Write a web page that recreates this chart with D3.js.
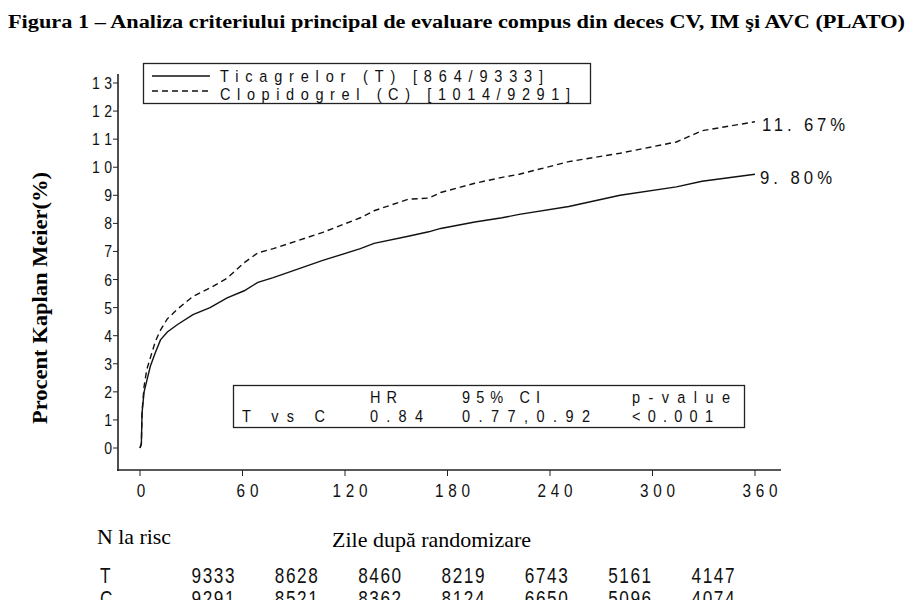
<!DOCTYPE html>
<html><head><meta charset="utf-8">
<script src="https://cdn.jsdelivr.net/npm/d3@7"></script>
<style>
body{margin:0;background:#fff;}
svg{display:block;}
.sans{font-family:"Liberation Sans",Arial,sans-serif;}
.serif{font-family:"Liberation Serif","Times New Roman",serif;}
</style></head>
<body><svg id="c" width="915" height="600"></svg>
<script>
const days        = [0, 0.8, 1.2, 2.4, 4, 6, 9, 12, 16, 22, 31, 41, 51, 61, 69, 78, 107, 129, 137, 157, 169, 176, 196, 212, 222, 251, 281, 314, 329, 360];
const ticagrelor  = [0, 0.15, 1.25, 2.0, 2.4, 2.9, 3.4, 3.85, 4.13, 4.4, 4.75, 5.0, 5.35, 5.6, 5.9, 6.07, 6.68, 7.1, 7.29, 7.54, 7.7, 7.82, 8.05, 8.2, 8.32, 8.6, 9.0, 9.3, 9.5, 9.75];
const clopidogrel = [0, 0.15, 1.3, 2.2, 2.8, 3.2, 3.8, 4.2, 4.6, 4.95, 5.4, 5.7, 6.05, 6.6, 6.95, 7.1, 7.68, 8.2, 8.45, 8.86, 8.9, 9.1, 9.43, 9.64, 9.75, 10.2, 10.5, 10.9, 11.3, 11.62];
const xTicks = [0, 60, 120, 180, 240, 300, 360];
const yTicks = [0,1,2,3,4,5,6,7,8,9,10,11,12,13];
const riskT = [9333, 8628, 8460, 8219, 6743, 5161, 4147];
const riskC = [9291, 8521, 8362, 8124, 6650, 5096, 4074];
const endLabels = ["11. 67%", "9. 80%"];
const legendLabels = ["Ticagrelor (T) [864/9333]", "Clopidogrel (C) [1014/9291]"];
const statsHead = ["HR", "95% CI", "p-value"];
const statsRow = ["T vs C", "0.84", "0.77,0.92", "<0.001"];

const svg = d3.select("#c");
const x = d3.scaleLinear().domain([0,360]).range([140,755]);
const y = d3.scaleLinear().domain([0,13]).range([448,83]);

// condensed, letter-spaced sans text (like the original's plotting font)
function stext(g, t, px, py, size, width, anchor, sx){
  sx = sx || 0.88;
  const e = g.append("text").attr("class","sans")
    .attr("transform",`translate(${px},${py}) scale(${sx},1)`)
    .attr("x",0).attr("y",0)
    .attr("font-size",size).attr("fill","#111").text(t);
  if(width) e.attr("textLength",width/sx).attr("lengthAdjust","spacing");
  if(anchor) e.attr("text-anchor",anchor);
  return e;
}

// title
svg.append("text").attr("class","serif").attr("x",8).attr("y",28)
  .attr("font-size",18).attr("font-weight","bold")
  .attr("textLength",897).attr("lengthAdjust","spacingAndGlyphs")
  .text("Figura 1 – Analiza criteriului principal de evaluare compus din deces CV, IM şi AVC (PLATO)");

// y label
svg.append("text").attr("class","serif")
  .attr("transform","translate(47,298) rotate(-90)")
  .attr("text-anchor","middle").attr("font-size",21).attr("font-weight","bold")
  .attr("textLength",252).attr("lengthAdjust","spacingAndGlyphs")
  .text("Procent Kaplan Meier(%)");

// axes lines
svg.append("line").attr("x1",118).attr("x2",118).attr("y1",74).attr("y2",471).attr("stroke","#222").attr("stroke-width",1.6);
svg.append("line").attr("x1",117).attr("x2",781).attr("y1",470).attr("y2",470).attr("stroke","#222").attr("stroke-width",1.6);

// y ticks
const yt = svg.append("g");
yt.selectAll("line").data(yTicks).join("line")
  .attr("x1",113).attr("x2",118).attr("y1",d=>y(d)).attr("y2",d=>y(d)).attr("stroke","#222");
yTicks.forEach(d=>{
  const s = String(d);
  stext(yt, s, 112, y(d)+6, 16.5, s.length>1?20:8.5, "end", 0.85);
});

// x ticks
const xt = svg.append("g");
xt.selectAll("line").data(xTicks).join("line")
  .attr("x1",d=>x(d)).attr("x2",d=>x(d)).attr("y1",470).attr("y2",476).attr("stroke","#222");
xTicks.forEach(d=>{
  const s = String(d);
  const w = s.length===1 ? 9 : s.length===2 ? 22 : 35;
  stext(xt, s, x(d) + (s.length>1?5:1), 497, 18, w, "middle", 0.85);
});

// curves
const lineL = d3.line().x(d=>x(d[0])).y(d=>y(d[1]));
svg.append("path").datum(days.map((d,i)=>[d,clopidogrel[i]]))
  .attr("d",lineL).attr("fill","none").attr("stroke","#111").attr("stroke-width",1.4)
  .attr("stroke-dasharray","6,4");
svg.append("path").datum(days.map((d,i)=>[d,ticagrelor[i]]))
  .attr("d",lineL).attr("fill","none").attr("stroke","#111").attr("stroke-width",1.4);

// end labels
const last = days.length-1;
stext(svg, endLabels[0], 762, y(clopidogrel[last])+9, 19, 83);
stext(svg, endLabels[1], 760, y(ticagrelor[last])+10, 19, 72);

// legend box
svg.append("rect").attr("x",143.5).attr("y",63.5).attr("width",447).attr("height",40)
  .attr("fill","#fff").attr("stroke","#222").attr("stroke-width",1.3);
svg.append("line").attr("x1",152).attr("x2",210).attr("y1",76).attr("y2",76).attr("stroke","#111").attr("stroke-width",1.3);
svg.append("line").attr("x1",152).attr("x2",210).attr("y1",91).attr("y2",91).attr("stroke","#111").attr("stroke-width",1.3).attr("stroke-dasharray","6,4");
stext(svg, legendLabels[0], 220, 82, 16.5, 323);
stext(svg, legendLabels[1], 220, 100, 16.5, 350);

// stats box
svg.append("rect").attr("x",233.5).attr("y",385.5).attr("width",511).attr("height",42)
  .attr("fill","#fff").attr("stroke","#222").attr("stroke-width",1.3);
const hx = [370, 462, 632], hw = [27, 78, 98];
statsHead.forEach((t,i)=>stext(svg, t, hx[i], 403, 16.5, hw[i]));
const rx = [242, 370, 462, 632], rw = [83, 53, 128, 81];
statsRow.forEach((t,i)=>stext(svg, t, rx[i], 422, 16.5, rw[i]));

// bottom labels
svg.append("text").attr("class","serif").attr("x",97).attr("y",544).attr("font-size",21)
  .attr("textLength",74).attr("lengthAdjust","spacingAndGlyphs").text("N la risc");
svg.append("text").attr("class","serif").attr("x",332).attr("y",547).attr("font-size",21)
  .attr("textLength",199).attr("lengthAdjust","spacingAndGlyphs").text("Zile după randomizare");

// risk table
const rxs = d3.scalePoint().domain(d3.range(riskT.length)).range([213,713]);
const rows = [["T",riskT,583],["C",riskC,606]];
rows.forEach(r=>{
  const g = svg.append("g");
  stext(g, r[0], 100, r[2], 21.5, 10, null, 0.8);
  r[1].forEach((d,i)=>stext(g, String(d), rxs(i), r[2], 21.5, 43, "middle", 0.8));
});
</script></body></html>
